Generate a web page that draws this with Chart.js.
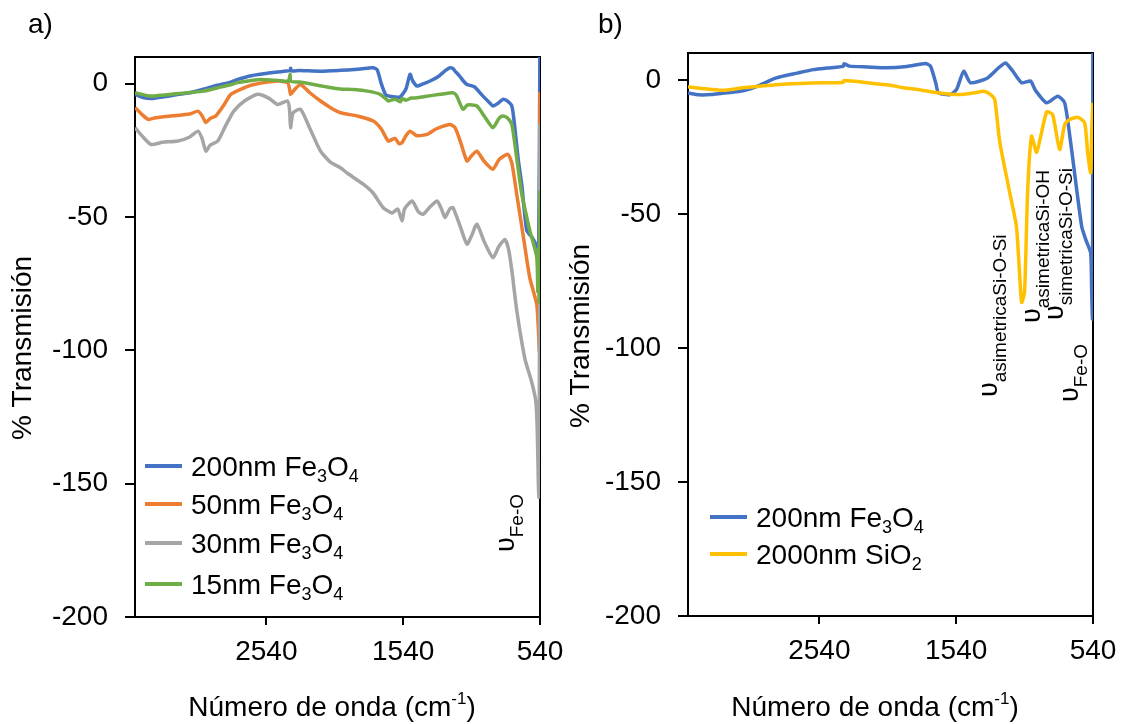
<!DOCTYPE html>
<html>
<head>
<meta charset="utf-8">
<script src="https://cdn.jsdelivr.net/npm/chart.js@4.4.1/dist/chart.umd.min.js"></script>
<style>
  body { margin: 0; background: #fff; }
  #wrap { position: relative; width: 1128px; height: 724px; }
  canvas { position: absolute; top: 0; }
  #left { left: 0; }
  #right { left: 564px; }
</style>
</head>
<body>
<div id="wrap">
  <canvas id="left" width="564" height="724"></canvas>
  <canvas id="right" width="564" height="724"></canvas>
</div>
<script>
// axis ticks
const xTicks = [540, 1540, 2540];
const yTicks = [-200, -150, -100, -50, 0];

// panel a) - Fe3O4 samples
const waveBlueA = [3500,3440,3380,3300,3200,3100,3000,2900,2800,2750,2650,2510,2420,2365,2362,2358,2300,2144,2000,1900,1800,1760,1730,1700,1670,1649,1600,1562,1520,1490,1470,1438,1400,1343,1280,1230,1198,1175,1161,1130,1100,1074,1040,1016,960,900,884,850,812,785,746,725,700,673,637,593,564,550,541];
const transBlueA = [-4.0,-5.2,-5.6,-5.0,-4.2,-3.4,-2.1,-0.6,0.6,1.6,3.0,4.1,4.6,5.0,5.8,4.8,4.9,4.7,5.0,5.3,5.8,6.0,5.2,0,-4.0,-4.6,-5.0,-5.0,-2.0,3.5,1.0,-0.9,-0.2,1.0,2.8,5.0,6.0,5.6,4.7,3.0,1.0,-0.3,-0.8,-1.3,-4.5,-7.6,-8.4,-7.5,-5.9,-6.3,-8.4,-16,-28,-38,-55,-58,-61,-63,12];

const waveOrangeA = [3500,3450,3404,3350,3237,3100,3040,3010,2982,2950,2909,2850,2800,2700,2632,2458,2385,2370,2363,2330,2290,2220,2144,2070,1999,1875,1759,1700,1649,1600,1570,1548,1520,1489,1440,1365,1300,1198,1161,1120,1074,1040,1001,950,884,840,775,745,710,660,615,564,552,545,541];
const transOrangeA = [-9.0,-11.5,-13.4,-12.8,-12.1,-11.4,-10.3,-12.0,-14.6,-13.0,-12.1,-8.0,-4.0,-1.5,-0.3,1.0,0.4,-2.0,-4.0,-2.0,-0.3,-3.5,-6.5,-9.0,-10.9,-12.1,-14.0,-17,-21.5,-20.5,-22.5,-22.1,-19.5,-17.8,-19.5,-19.0,-17,-15.3,-16.5,-22,-29.0,-27,-25.3,-29,-32.1,-28.5,-26.5,-30,-41.5,-58,-72.7,-82.7,-92,-100,-3];

const waveGrayA = [3500,3450,3383,3300,3186,3100,3040,3010,2982,2950,2895,2840,2778,2700,2603,2520,2458,2385,2370,2363,2345,2290,2220,2144,2070,1999,1950,1832,1760,1686,1620,1580,1548,1530,1474,1430,1394,1340,1292,1260,1234,1200,1176,1120,1074,1040,1001,950,884,840,797,770,746,710,651,600,571,560,552,548,545,541];
const transGrayA = [-16.5,-19.5,-22.8,-22.0,-21.5,-20.0,-17.8,-20.5,-25.3,-23.0,-21.5,-16.0,-10.3,-6.5,-4.0,-5.5,-7.8,-6.5,-10.0,-16.5,-11.0,-9.6,-17.0,-25.3,-29.5,-31.5,-33.5,-37.7,-41,-46.5,-48.5,-47,-51.5,-47,-44.0,-48,-49.0,-46,-44.0,-47,-50.2,-47,-46.5,-54,-60.2,-57,-52.7,-59,-65.2,-61,-58.4,-62,-70,-85,-103,-112,-119,-130,-150,-155,-120,-15];

const waveGreenA = [3500,3420,3361,3300,3200,3100,3000,2900,2800,2750,2650,2581,2480,2380,2366,2362,2300,2195,2100,2000,1900,1800,1708,1660,1649,1600,1560,1548,1520,1480,1438,1380,1270,1176,1150,1103,1070,1001,950,884,840,812,780,746,710,673,637,615,564,556,550,546,543,541];
const transGreenA = [-3.4,-4.4,-4.6,-4.3,-3.8,-3.3,-2.8,-1.6,-0.4,0.4,1.2,1.6,1.3,1.0,3.5,0.9,0.6,-0.3,-1.2,-2.0,-2.2,-2.8,-4.0,-6.0,-6.5,-5.8,-6.8,-5.6,-6.2,-5.4,-5.3,-4.8,-4.0,-3.4,-4.5,-9.6,-8.0,-8.4,-12,-16.5,-13,-12.1,-12.8,-15.3,-28,-41.5,-50,-55,-65,-78,-62,-82,-70,-40];

// panel b) - Fe3O4 vs SiO2
const waveBlueB = [3500,3420,3329,3250,3117,3000,2854,2700,2583,2480,2365,2360,2320,2188,2056,1900,1764,1728,1690,1669,1582,1537,1485,1435,1310,1230,1179,1130,1062,996,960,879,798,747,703,623,590,557,550,544,541];
const transBlueB = [-4.9,-5.6,-5.5,-5.0,-4.3,-2.5,0.7,2.5,3.8,4.4,5.0,6.0,5.1,4.8,4.5,5.0,6.1,5.1,-1,-4.9,-5.5,-3.6,3.2,-1.1,0.7,4.5,6.3,3.5,-1.1,-0.5,-4,-8.6,-6.1,-8.6,-23.5,-54.6,-60,-64.6,-78.3,-89,12];

const waveYellowB = [3500,3400,3249,3100,2854,2600,2451,2365,2360,2188,2000,1924,1800,1661,1522,1400,1340,1288,1258,1222,1149,1099,1062,1040,1018,989,952,879,835,784,747,711,650,601,579,557,550,541];
const transYellowB = [-2.6,-3.2,-3.9,-3.0,-1.8,-1.2,-1.1,-0.9,-0.3,-1.1,-2.2,-3.0,-3.8,-4.9,-5.5,-4.8,-4.3,-5.5,-7.4,-23,-42,-55,-83,-79,-42,-21,-27,-12,-13,-26,-16.7,-14.8,-14,-16,-27.2,-34.6,-20,-8.6];

// texts: odd parts are sub/superscripts
const legendA = [['200nm Fe','3','O','4'], ['50nm Fe','3','O','4'], ['30nm Fe','3','O','4'], ['15nm Fe','3','O','4']];
const legendB = [['200nm Fe','3','O','4'], ['2000nm SiO','2']];
const notesA = [['υ','Fe-O']];
const notesB = [['υ','asimetricaSi-O-Si'], ['υ','asimetricaSi-OH'], ['υ','simetricaSi-O-Si'], ['υ','Fe-O']];
const xTitle = ['Número de onda (cm', '-1', ')'];
const yTitle = '% Transmisión';

const FONT = '"Liberation Sans", Arial, sans-serif';
const colors = { blue: '#4472C4', orange: '#ED7D31', gray: '#A5A5A5', green: '#70AD47', yellow: '#FFC000' };

// layout of each panel (canvas-local pixels)
const panels = {
  left: {
    top: 57, right: 24, yw: 135, xh: 107, label: 'a)', labelX: 28,
    yTitleX: 23, yTitleY: 348, xTitleX: 332,
    legend: legendA, legendColors: [colors.blue, colors.orange, colors.gray, colors.green],
    legendX: 145, legendY: [466, 504, 543, 584],
    notes: notesA, notePos: [[514, 552]]
  },
  right: {
    top: 53, right: 35, yw: 124, xh: 108, label: 'b)', labelX: 34,
    yTitleX: 17, yTitleY: 336, xTitleX: 311,
    legend: legendB, legendColors: [colors.blue, colors.yellow],
    legendX: 146, legendY: [517, 554],
    notes: notesB, notePos: [[433, 397], [476, 323], [499, 320], [514, 402]]
  }
};

const runsWidth = (ctx, parts, size, subSize) => parts.reduce((w, t, i) => {
  ctx.font = `${i % 2 ? subSize : size}px ${FONT}`;
  return w + ctx.measureText(t).width;
}, 0);

const drawRuns = (ctx, parts, x, y, size, subSize, shift) => {
  let cx = x;
  parts.forEach((t, i) => {
    const sub = i % 2 === 1;
    ctx.font = `${sub ? subSize : size}px ${FONT}`;
    ctx.fillText(t, cx, y + (sub ? shift : 0));
    cx += ctx.measureText(t).width;
  });
};

const decor = {
  id: 'decor',
  beforeDatasetsDraw(chart) {
    const { ctx, chartArea: a } = chart;
    ctx.save();
    ctx.strokeStyle = '#000';
    ctx.lineWidth = 2;
    ctx.beginPath();
    ctx.moveTo(a.left, a.top);
    ctx.lineTo(a.right, a.top);
    ctx.lineTo(a.right, a.bottom);
    ctx.stroke();
    ctx.restore();
  },
  afterDraw(chart) {
    const p = panels[chart.canvas.id];
    const ctx = chart.ctx;
    ctx.save();
    ctx.fillStyle = '#000';
    ctx.textBaseline = 'alphabetic';
    ctx.textAlign = 'left';

    // panel letter
    ctx.font = `28px ${FONT}`;
    ctx.fillText(p.label, p.labelX, 33);

    // x title with superscript
    const w = runsWidth(ctx, xTitle, 28, 17);
    drawRuns(ctx, xTitle, p.xTitleX - w / 2, 716, 28, 17, -12);

    // y title
    ctx.save();
    ctx.translate(p.yTitleX, p.yTitleY);
    ctx.rotate(-Math.PI / 2);
    ctx.textAlign = 'center';
    ctx.textBaseline = 'middle';
    ctx.font = `28px ${FONT}`;
    ctx.fillText(yTitle, 0, 0);
    ctx.restore();

    // legend
    p.legend.forEach((parts, i) => {
      const y = p.legendY[i];
      ctx.strokeStyle = p.legendColors[i];
      ctx.lineWidth = 4;
      ctx.beginPath();
      ctx.moveTo(p.legendX, y);
      ctx.lineTo(p.legendX + 37, y);
      ctx.stroke();
      drawRuns(ctx, parts, p.legendX + 46, y + 10, 28, 18, 6);
    });

    // band annotations, rotated
    p.notes.forEach((parts, i) => {
      const [x, y] = p.notePos[i];
      ctx.save();
      ctx.translate(x, y);
      ctx.rotate(-Math.PI / 2);
      drawRuns(ctx, parts, 0, 0, 27, 19, 9);
      ctx.restore();
    });
    ctx.restore();
  }
};

const makeSet = (wave, trans, color, order) => ({
  data: wave.map((w, i) => ({ x: w, y: trans[i] })),
  borderColor: color,
  backgroundColor: color,
  showLine: true,
  pointRadius: 0,
  borderWidth: 3.5,
  tension: 0.2,
  order: order
});

const makeChart = (id, sets) => {
  const p = panels[id];
  return new Chart(document.getElementById(id), {
    type: 'scatter',
    data: { datasets: sets },
    plugins: [decor],
    options: {
      responsive: false,
      animation: false,
      layout: { padding: { top: p.top, right: p.right, left: 0, bottom: 0 } },
      plugins: { legend: { display: false }, tooltip: { enabled: false } },
      scales: {
        x: {
          type: 'linear', reverse: true, min: 540, max: 3500,
          afterBuildTicks: s => { s.ticks = xTicks.map(v => ({ value: v })); },
          afterFit: s => { s.height = p.xh; s.paddingLeft = 0; s.paddingRight = 0; },
          grid: { drawOnChartArea: false, tickLength: 8, color: '#000', lineWidth: 2 },
          border: { color: '#000', width: 2 },
          ticks: { font: { size: 28, family: FONT }, color: '#000', padding: 10, maxRotation: 0, autoSkip: false, callback: v => String(v) }
        },
        y: {
          min: -200, max: 10,
          afterBuildTicks: s => { s.ticks = yTicks.map(v => ({ value: v })); },
          afterFit: s => { s.width = p.yw; s.paddingTop = 0; s.paddingBottom = 0; },
          grid: { drawOnChartArea: false, tickLength: 10, color: '#000', lineWidth: 2 },
          border: { color: '#000', width: 2 },
          ticks: { font: { size: 28, family: FONT }, color: '#000', padding: 17, callback: v => String(v) }
        }
      }
    }
  });
};

// later series on top, like the original
makeChart('left', [
  makeSet(waveBlueA, transBlueA, colors.blue, 4),
  makeSet(waveOrangeA, transOrangeA, colors.orange, 3),
  makeSet(waveGrayA, transGrayA, colors.gray, 2),
  makeSet(waveGreenA, transGreenA, colors.green, 1)
]);
makeChart('right', [
  makeSet(waveBlueB, transBlueB, colors.blue, 2),
  makeSet(waveYellowB, transYellowB, colors.yellow, 1)
]);
</script>
</body>
</html>
